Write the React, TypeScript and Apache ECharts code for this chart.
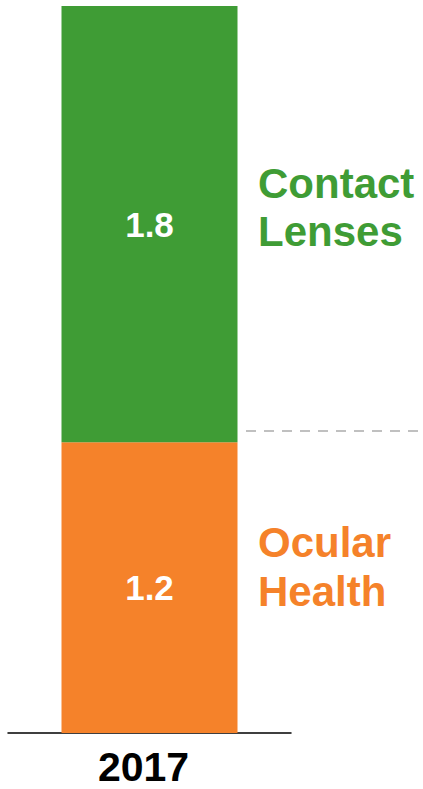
import React, { useEffect, useRef } from "react";
import * as echarts from "echarts";

const categories = ["2017"];
const ocularHealth = [1.2];
const contactLenses = [1.8];
const segmentNames = ["Ocular\nHealth", "Contact\nLenses"];

const GREEN = "#3f9c35";
const ORANGE = "#f5822a";
const FONT = "'Liberation Sans', Arial, Helvetica, sans-serif";

export default function App() {
  const ref = useRef<HTMLDivElement>(null);
  useEffect(() => {
    if (!ref.current) return;
    const chart = echarts.init(ref.current, null, { renderer: "svg" });
    const valueLabel = {
      show: true,
      position: "inside",
      color: "#ffffff",
      fontFamily: FONT,
      fontWeight: "bold",
      fontSize: 35,
      formatter: (p: any) => Number(p.value).toFixed(1),
    };
    chart.setOption({
      animation: false,
      backgroundColor: "#ffffff",
      grid: { left: 8, right: 132, top: 6, bottom: 56, containLabel: false },
      xAxis: {
        type: "category",
        data: categories,
        axisLine: { show: true, lineStyle: { color: "#000000", width: 1.5 } },
        axisTick: { show: false },
        axisLabel: {
          margin: 13,
          color: "#000000",
          fontFamily: FONT,
          fontWeight: "bold",
          fontSize: 41,
          padding: [0, 12, 0, 0],
        },
      },
      yAxis: {
        type: "value",
        min: 0,
        max: 3,
        show: false,
        splitLine: { show: false },
      },
      series: [
        {
          name: "Ocular Health",
          type: "bar",
          stack: "total",
          data: ocularHealth,
          barWidth: 176,
          itemStyle: { color: ORANGE },
          label: valueLabel,
        },
        {
          name: "Contact Lenses",
          type: "bar",
          stack: "total",
          data: contactLenses,
          barWidth: 176,
          itemStyle: { color: GREEN },
          label: valueLabel,
        },
      ],
      graphic: [
        {
          type: "text",
          left: 258,
          top: 159,
          style: {
            text: segmentNames[1],
            fill: GREEN,
            font: `bold 42px ${FONT}`,
            lineHeight: 48,
          },
        },
        {
          type: "text",
          left: 258,
          top: 518,
          style: {
            text: segmentNames[0],
            fill: ORANGE,
            font: `bold 42px ${FONT}`,
            lineHeight: 49,
          },
        },
        {
          type: "line",
          shape: { x1: 246, y1: 431, x2: 420, y2: 431 },
          style: { stroke: "#c0c0c0", lineWidth: 2, lineDash: [10, 8] },
        },
      ],
    });
    return () => chart.dispose();
  }, []);
  return (
    <div
      ref={ref}
      style={{ position: "fixed", left: 0, top: 0, width: 423, height: 789 }}
    />
  );
}
